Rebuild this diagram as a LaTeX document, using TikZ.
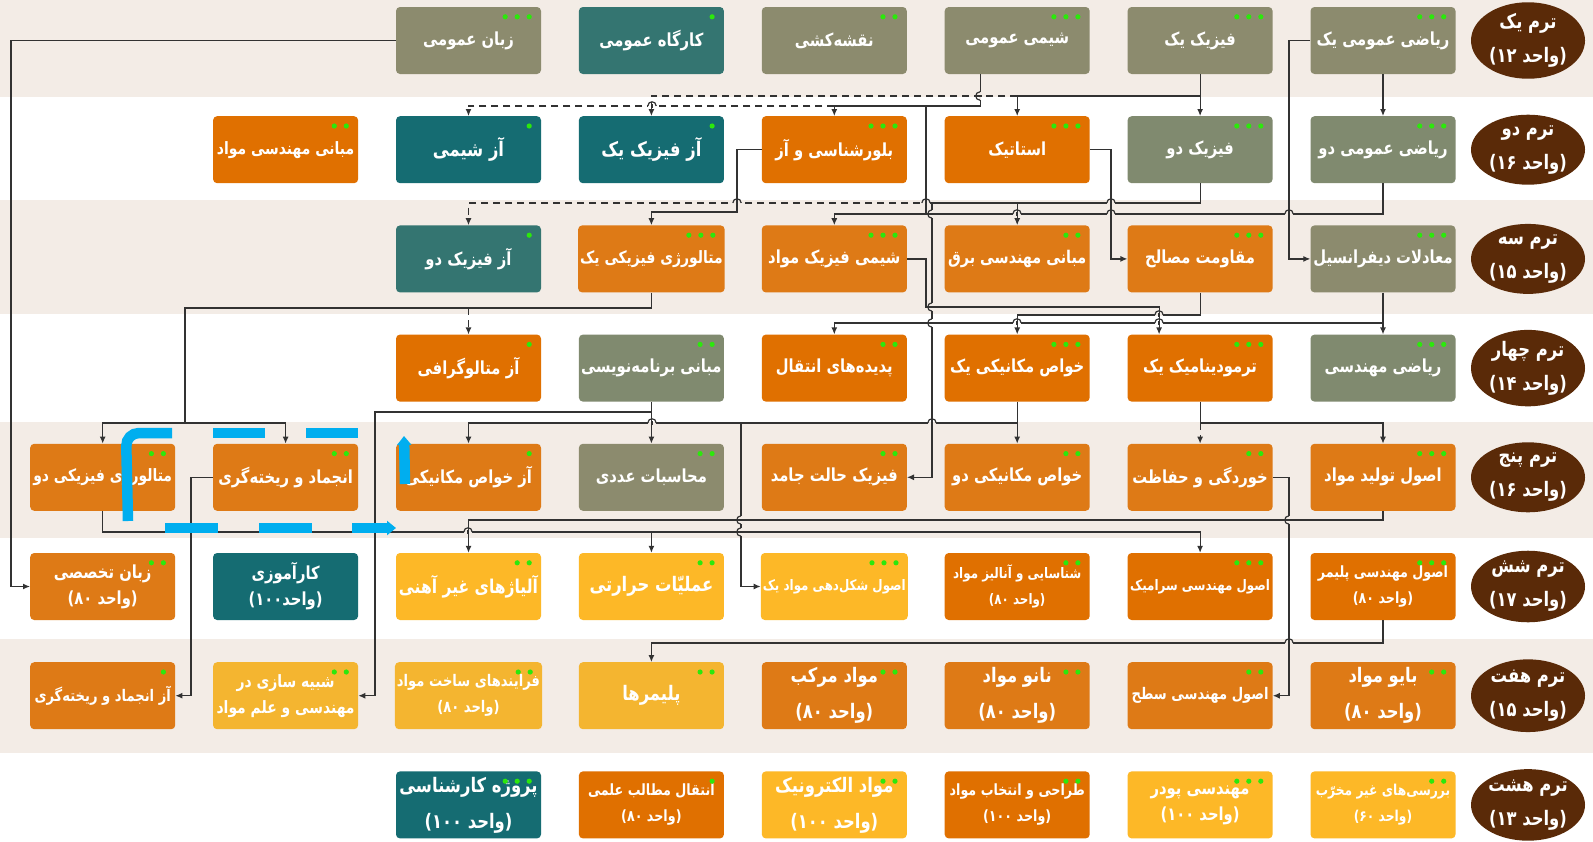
\documentclass[tikz,border=0pt]{standalone}
\usepackage{fontspec}
\usepackage{tikz}
\usetikzlibrary{arrows.meta,positioning,shapes.geometric,calc}
\newfontfamily\farsi[Script=Arabic, FakeStretch=0.82]{DejaVu Sans}
\newfontfamily\parfont[FakeStretch=0.82]{DejaVu Sans}
\TeXXeTstate=1
\definecolor{bandbeige}{RGB}{243,236,230}
\definecolor{olivebox}{RGB}{140,139,110}
\definecolor{sagebox}{RGB}{128,138,111}
\definecolor{tealbox}{RGB}{52,117,113}
\definecolor{deepteal}{RGB}{21,108,114}
\definecolor{orangebox}{RGB}{224,112,0}
\definecolor{amberbox}{RGB}{222,122,22}
\definecolor{yellowbox}{RGB}{253,184,39}
\definecolor{goldbox}{RGB}{244,181,48}
\definecolor{termbrown}{RGB}{90,42,8}
\definecolor{dotgreen}{RGB}{44,232,12}
\definecolor{linegray}{RGB}{50,50,50}
\definecolor{markblue}{RGB}{0,174,239}
\newcommand{\fa}[1]{\beginR #1\endR}
\newcommand{\vahed}[2][\ ]{\beginL\mbox{\parfont(}\mbox{#2}#1\mbox{واحد}\mbox{\parfont)}\endL}
% line hops: horizontal line bridging a vertical one, and the other way round
\newcommand{\hoph}[3]{%
  \fill[#3] (#1-4.2,#2-1) rectangle (#1+4.2,#2+1);
  \draw[linegray, line width=1.2pt] (#1,#2-1.6) -- (#1,#2+1.6);
  \draw[linegray, line width=1.2pt] (#1-4.2,#2) .. controls (#1-4.2,#2-5.6) and (#1+4.2,#2-5.6) .. (#1+4.2,#2);}
\newcommand{\hopv}[3]{%
  \fill[#3] (#1-1,#2-4.2) rectangle (#1+1,#2+4.2);
  \draw[linegray, line width=1.2pt] (#1-1.6,#2) -- (#1+1.6,#2);
  \draw[linegray, line width=1.2pt] (#1,#2-4.2) .. controls (#1-5.6,#2-4.2) and (#1-5.6,#2+4.2) .. (#1,#2+4.2);}

\begin{document}
\begin{tikzpicture}[
  x=1pt, y=-1pt, on grid, node distance=109.2pt and 182.9pt,
  course/.style={rectangle, rounded corners=4pt, fill=#1, minimum width=145pt, minimum height=67pt, inner sep=2pt, text=white, align=center, font=\farsi\bfseries\fontsize{18}{26}\selectfont},
  sz/.style={font=\farsi\bfseries\fontsize{#1}{26}\selectfont},
  bigtext/.style={font=\farsi\bfseries\fontsize{20}{36}\selectfont},
  term/.style={ellipse, fill=termbrown, minimum width=114pt, minimum height=70pt, inner sep=0pt, text=white, align=center, font=\farsi\bfseries\fontsize{20}{34}\selectfont},
  arrow/.style={-{Latex[length=7pt,width=6pt]}, line width=1.2pt, draw=linegray},
  coreq/.style={arrow, dash pattern=on 7pt off 5pt}
]
\useasboundingbox (0,0) rectangle (1593,841);
\fill[white] (0,0) rectangle (1593,841);
\fill[bandbeige] (0,0) rectangle (1593,97);
\fill[bandbeige] (0,200) rectangle (1593,314);
\fill[bandbeige] (0,422) rectangle (1593,538);
\fill[bandbeige] (0,639) rectangle (1593,753);

% term 1
\node[course=olivebox] (math1) at (1383,40.5) {\fa{ریاضی عمومی یک}};
\node[course=olivebox, left=of math1] (phys1) {\fa{فیزیک یک}};
\node[course=olivebox, left=of phys1] (chem1) {\fa{شیمی عمومی}};
\node[course=olivebox, left=of chem1] (drafting) {\fa{نقشه‌کشی}};
\node[course=tealbox, left=of drafting] (workshop) {\fa{کارگاه عمومی}};
\node[course=olivebox, left=of workshop] (english) {\fa{زبان عمومی}};
% term 2
\node[course=sagebox, below=of math1] (math2) {\fa{ریاضی عمومی دو}};
\node[course=sagebox, left=of math2] (phys2) {\fa{فیزیک دو}};
\node[course=orangebox, left=of phys2] (statics) {\fa{استاتیک}};
\node[course=orangebox, left=of statics] (cryst) {\fa{بلورشناسی و آز}};
\node[course=deepteal, bigtext, left=of cryst] (physlab1) {\fa{آز فیزیک یک}};
\node[course=deepteal, bigtext, left=of physlab1] (chemlab) {\fa{آز شیمی}};
\node[course=orangebox, sz=17, left=of chemlab] (intro) {\fa{مبانی مهندسی مواد}};
% term 3
\node[course=olivebox, below=of math2] (diffeq) {\fa{معادلات دیفرانسیل}};
\node[course=amberbox, left=of diffeq] (strength) {\fa{مقاومت مصالح}};
\node[course=amberbox, sz=17.5, left=of strength] (elec) {\fa{مبانی مهندسی برق}};
\node[course=amberbox, left=of elec] (physchem) {\fa{شیمی فیزیک مواد}};
\node[course=amberbox, sz=17, left=of physchem] (metal1) {\fa{متالورژی فیزیکی یک}};
\node[course=tealbox, left=of metal1] (physlab2) {\fa{آز فیزیک دو}};
% term 4
\node[course=sagebox, below=of diffeq] (engmath) {\fa{ریاضی مهندسی}};
\node[course=orangebox, left=of engmath] (thermo) {\fa{ترمودینامیک یک}};
\node[course=orangebox, left=of thermo] (mech1) {\fa{خواص مکانیکی یک}};
\node[course=orangebox, left=of mech1] (transport) {\fa{پدیده‌های انتقال}};
\node[course=sagebox, left=of transport] (prog) {\fa{مبانی برنامه‌نویسی}};
\node[course=orangebox, left=of prog] (metallab) {\fa{آز متالوگرافی}};
% term 5
\node[course=amberbox, below=of engmath] (production) {\fa{اصول تولید مواد}};
\node[course=amberbox, left=of production] (corrosion) {\fa{خوردگی و حفاظت}};
\node[course=amberbox, left=of corrosion] (mech2) {\fa{خواص مکانیکی دو}};
\node[course=amberbox, left=of mech2] (solid) {\fa{فیزیک حالت جامد}};
\node[course=olivebox, left=of solid] (numeric) {\fa{محاسبات عددی}};
\node[course=amberbox, left=of numeric] (mechlab) {\fa{آز خواص مکانیکی}};
\node[course=amberbox, left=of mechlab] (solidif) {\fa{انجماد و ریخته‌گری}};
\node[course=amberbox, sz=17, left=of solidif] (metal2) {\fa{متالورژی فیزیکی دو}};
% term 6
\node[course=orangebox, sz=15.5, below=of production] (polymer) {\fa{اصول مهندسی پلیمر}\\\vahed{۸۰}};
\node[course=orangebox, sz=14.5, left=of polymer] (ceramic) {\fa{اصول مهندسی سرامیک}};
\node[course=orangebox, sz=14.5, left=of ceramic] (charac) {\fa{شناسایی و آنالیز مواد}\\\vahed{۸۰}};
\node[course=yellowbox, sz=14.5, left=of charac] (forming) {\fa{اصول شکل‌دهی مواد یک}};
\node[course=yellowbox, bigtext, left=of forming] (heat) {\fa{عملیّات حرارتی}};
\node[course=yellowbox, sz=19, left=of heat] (nonferrous) {\fa{آلیاژهای غیر آهنی}};
\node[course=deepteal, left=of nonferrous] (intern) {\fa{کارآموزی}\\\vahed[]{۱۰۰}};
\node[course=amberbox, left=of intern] (techeng) {\fa{زبان تخصصی}\\\vahed{۸۰}};
% term 7
\node[course=amberbox, bigtext, below=of polymer] (bio) {\fa{بایو مواد}\\\vahed{۸۰}};
\node[course=amberbox, sz=16, left=of bio] (surface) {\fa{اصول مهندسی سطح}};
\node[course=amberbox, bigtext, left=of surface] (nano) {\fa{نانو مواد}\\\vahed{۸۰}};
\node[course=amberbox, bigtext, left=of nano] (composite) {\fa{مواد مرکب}\\\vahed{۸۰}};
\node[course=goldbox, bigtext, left=of composite] (polymers) {\fa{پلیمرها}};
\node[course=goldbox, sz=16, left=of polymers] (process) {\fa{فرایندهای ساخت مواد}\\\vahed{۸۰}};
\node[course=goldbox, sz=17, left=of process] (simul) {\fa{شبیه سازی در}\\\fa{مهندسی و علم مواد}};
\node[course=amberbox, sz=16, left=of simul] (castlab) {\fa{آز انجماد و ریخته‌گری}};
% term 8
\node[course=yellowbox, sz=15, below=of bio] (ndt) {\fa{بررسی‌های غیر مخرّب}\\\vahed{۶۰}};
\node[course=yellowbox, left=of ndt] (powder) {\fa{مهندسی پودر}\\\vahed{۱۰۰}};
\node[course=orangebox, sz=15.5, left=of powder] (design) {\fa{طراحی و انتخاب مواد}\\\vahed{۱۰۰}};
\node[course=yellowbox, bigtext, left=of design] (electronic) {\fa{مواد الکترونیک}\\\vahed{۱۰۰}};
\node[course=orangebox, sz=15.5, left=of electronic] (writing) {\fa{انتقال مطالب علمی}\\\vahed{۸۰}};
\node[course=deepteal, bigtext, left=of writing] (project) {\fa{پروژه کارشناسی}\\\vahed{۱۰۰}};

% term labels
\node[term, right=145pt of math1] (t1) {\fa{ترم یک}\\\vahed{۱۲}};
\node[term, right=145pt of math2] (t2) {\fa{ترم دو}\\\vahed{۱۶}};
\node[term, right=145pt of diffeq] (t3) {\fa{ترم سه}\\\vahed{۱۵}};
\node[term, right=145pt of engmath] (t4) {\fa{ترم چهار}\\\vahed{۱۴}};
\node[term, right=145pt of production] (t5) {\fa{ترم پنج}\\\vahed{۱۶}};
\node[term, right=145pt of polymer] (t6) {\fa{ترم شش}\\\vahed{۱۷}};
\node[term, right=145pt of bio] (t7) {\fa{ترم هفت}\\\vahed{۱۵}};
\node[term, right=145pt of ndt] (t8) {\fa{ترم هشت}\\\vahed{۱۳}};

% credit dots
\foreach \n/\k in {math1/3,phys1/3,chem1/3,drafting/2,workshop/1,english/3,
    math2/3,phys2/3,statics/3,cryst/3,physlab1/1,chemlab/1,intro/2,
    diffeq/3,strength/3,elec/2,physchem/3,metal1/3,physlab2/1,
    engmath/3,thermo/3,mech1/3,transport/2,prog/2,metallab/1,
    production/3,corrosion/2,mech2/2,solid/2,numeric/2,mechlab/1,solidif/2,metal2/2,
    polymer/3,ceramic/3,charac/2,forming/3,heat/2,nonferrous/2,techeng/2,
    bio/2,surface/2,nano/2,composite/2,polymers/2,process/2,simul/2,castlab/1,
    ndt/2,powder/3,design/2,electronic/2,writing/1,project/3}
  \foreach \i in {1,...,\k}
    \fill[dotgreen] ($(\n.north east)+(-12*\i,10)$) circle (2.6pt);

% buses and risers
\coordinate (busA) at (0,96);
\coordinate (busB) at (0,106);
\coordinate (busC) at (0,203);
\coordinate (busD) at (0,214);
\coordinate (busE) at (0,212);
\coordinate (busF) at (0,307);
\coordinate (busG) at (0,315);
\coordinate (busH) at (0,323);
\coordinate (busI) at (0,308);
\coordinate (busJ) at (0,412);
\coordinate (busK) at (0,423);
\coordinate (busL) at (0,520);
\coordinate (busM) at (0,532);
\coordinate (busN) at (0,643);
\coordinate (vEng) at (11,0);
\coordinate (vMath) at (1289,0);
\coordinate (vChem) at (926,0);
\coordinate (vSolid) at (932,0);
\coordinate (vStat) at (1111,0);
\coordinate (vCryst) at (737,0);
\coordinate (vMet) at (185,0);
\coordinate (vProg) at (375,0);
\coordinate (vForm) at (741,0);
\coordinate (vCorr) at (1289,0);
\coordinate (vCast) at (191,0);

% prerequisites
\draw[arrow] (english.west) -- (vEng |- english.west) |- (techeng.west);
\draw[arrow] (math1) -- (math2);
\draw[arrow] (math1.west) -- (vMath |- math1.west) |- (diffeq.west);
\draw[arrow] (phys1) -- (phys2);
\draw[arrow] (phys1.south |- busA) -| (statics.north);
\draw[coreq] (statics.north |- busA) -| (physlab1.north);
\draw[arrow] ([xshift=-37pt]chem1.south) |- (cryst.north |- busB) -- (cryst.north);
\draw[coreq] (cryst.north |- busB) -| (chemlab.north);
\draw[draw=linegray, line width=1.2pt] (vChem |- busB) -- (vChem |- busD);
\draw[arrow] (math2.south) |- (physchem.north |- busD) -- (physchem.north);
\draw[arrow] (phys2.south) |- (elec.north |- busC) -- (elec.north);
\draw[arrow] (elec.north |- busC) -- (vSolid |- busC) |- (solid.east);
\draw[coreq] (vSolid |- busC) -| (physlab2.north);
\draw[arrow] (statics.east) -- (vStat |- statics.east) |- (strength.west);
\draw[arrow] (cryst.west) -- (vCryst |- cryst.west) |- (metal1.north |- busE) -- (metal1.north);
\draw[arrow] (physchem.east) -- (vChem |- physchem.east) |- ([xshift=-41pt]thermo.north |- busF) -- ([xshift=-41pt]thermo.north);
\draw[arrow] (strength.south) |- (mech1.north |- busG) -- (mech1.north);
\draw[arrow] (diffeq) -- (engmath);
\draw[arrow] (diffeq.south |- busH) -| (transport.north);
\draw[draw=linegray, line width=1.2pt] (metal1.south) |- (vMet |- busI) -- (vMet |- busK);
\draw[arrow] (vMet |- busK) -| (metal2.north);
\draw[arrow] (vMet |- busK) -| (solidif.north);
\draw[coreq] (metallab.north |- busI) -- (metallab.north);
\draw[arrow] (prog) -- (numeric);
\draw[arrow] (prog.south |- busJ) -- (vProg |- busJ) |- (simul.east);
\draw[arrow] (mech1) -- (mech2);
\draw[arrow] (mech1.south |- busK) -| (mechlab.north);
\draw[arrow] (vForm |- busK) |- (forming.west);
\draw[draw=linegray, line width=1.2pt] (thermo.south) -- (thermo.south |- busK);
\draw[arrow] (thermo.south |- busK) -| (production.north);
\draw[coreq] (thermo.south |- busK) -- (corrosion.north);
\draw[arrow] (production.south) |- (nonferrous.north |- busL) -- (nonferrous.north);
\draw[arrow] (metal2.south) |- (ceramic.north |- busM) -- (ceramic.north);
\draw[arrow] (heat.north |- busM) -- (heat.north);
\draw[arrow] (corrosion.east) -- (vCorr |- corrosion.east) |- (surface.east);
\draw[arrow] (polymer.south) |- (polymers.north |- busN) -- (polymers.north);
\draw[arrow] (solidif.west) -- (vCast |- solidif.west) |- (castlab.east);

% hops where lines cross
\hopv{980}{96}{bandbeige}
\hoph{652}{106}{white}
\hoph{926}{203}{bandbeige}
\hoph{737}{203}{bandbeige}
\hoph{1111}{203}{bandbeige}
\hoph{1289}{214}{bandbeige}
\hoph{1111}{214}{bandbeige}
\hoph{1017}{214}{bandbeige}
\hopv{932}{214}{bandbeige}
\hopv{932}{307}{bandbeige}
\hoph{1159}{315}{bandbeige}
\hoph{1159}{323}{white}
\hoph{1017}{323}{white}
\hopv{932}{323}{white}
\hoph{932}{423}{bandbeige}
\hoph{652}{423}{bandbeige}
\hopv{1289}{520}{bandbeige}
\hopv{741}{520}{bandbeige}
\hopv{741}{532}{bandbeige}
\hoph{468}{532}{bandbeige}
\hoph{375}{532}{bandbeige}
\hoph{191}{532}{bandbeige}
\hoph{1289}{643}{bandbeige}

% blue marking
\begin{scope}[draw=markblue, line width=10.5pt]
\draw[rounded corners=13pt] (128,521) -- (126,433) -- (172,433);
\draw (213,433) -- (265,433);
\draw (306,433) -- (358,433);
\draw (165,528) -- (218,528);
\draw (259,528) -- (312,528);
\draw[-{Triangle[length=9pt,width=14pt]}] (352,528) -- (396,528);
\draw[-{Triangle[length=9pt,width=14pt]}] (405,484) -- (404,436);
\end{scope}
\end{tikzpicture}
\end{document}
